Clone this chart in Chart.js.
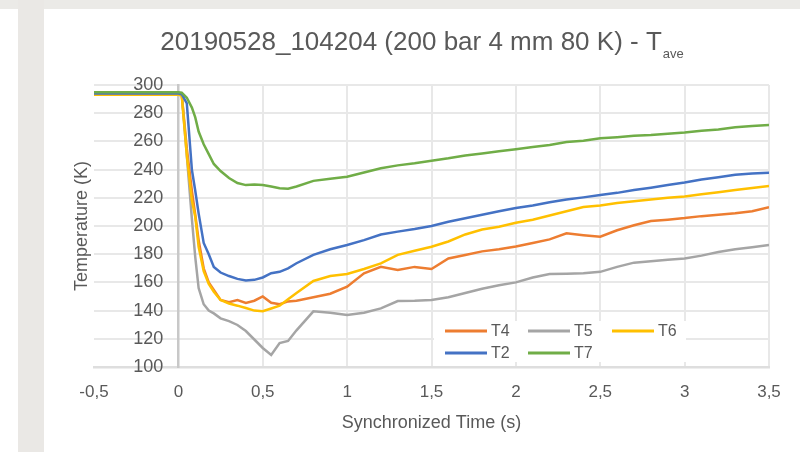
<!DOCTYPE html>
<html><head><meta charset="utf-8">
<script src="https://cdn.jsdelivr.net/npm/chart.js@4.4.1/dist/chart.umd.min.js"></script>
<style>
html,body{margin:0;padding:0;background:#fff;width:800px;height:452px;overflow:hidden;position:relative}
#top{position:absolute;left:0;top:0;width:800px;height:9px;background:#ebeae7}
#side{position:absolute;left:18px;top:0;width:26px;height:452px;background:#eae8e5}
#wrap{position:absolute;left:44px;top:9px;width:756px;height:443px;background:#fff}
</style></head><body>
<div id="top"></div><div id="side"></div>
<div id="wrap"><canvas id="c" width="756" height="443"></canvas></div>
<script>
const chartTitle = '20190528_104204 (200 bar 4 mm 80 K) - T';
const chartTitleSub = 'ave';
const xAxisTitle = 'Synchronized Time (s)';
const yAxisTitle = 'Temperature (K)';
const seriesNames = ['T4', 'T5', 'T6', 'T2', 'T7'];
const seriesColors = ['#ED7D31', '#A5A5A5', '#FFC000', '#4472C4', '#70AD47'];
const timeS = [-0.5, 0, 0.02, 0.05, 0.08, 0.1, 0.12, 0.15, 0.18, 0.21, 0.25, 0.3, 0.35, 0.4, 0.45, 0.5, 0.55, 0.6, 0.65, 0.7, 0.8, 0.9, 1.0, 1.1, 1.2, 1.3, 1.4, 1.5, 1.6, 1.7, 1.8, 1.9, 2.0, 2.1, 2.2, 2.3, 2.4, 2.5, 2.6, 2.7, 2.8, 2.9, 3.0, 3.1, 3.2, 3.3, 3.4, 3.5];
const tempT4 = [293.5, 293.5, 293, 255, 225, 208, 190, 170, 160, 154.6, 147.5, 146, 147.5, 145.5, 147, 150, 145.5, 144.5, 146.5, 147, 149.5, 152, 157, 166.5, 171, 168.8, 171, 169.5, 177, 179.5, 182, 183.5, 185.5, 188, 190.5, 194.8, 193.5, 192.4, 197, 200.5, 203.5, 204.5, 205.6, 207, 208, 209, 210.5, 213.3];
const tempT5 = [294, 294, 293.5, 250, 205, 178, 156, 144.5, 140, 138, 134.5, 132.5, 129.8, 125.5, 119.5, 113.5, 108.5, 117, 118.5, 126, 139.5, 138.5, 136.9, 138.5, 141.6, 146.8, 147, 147.5, 149.5, 152.5, 155.5, 158, 160, 163.5, 166, 166.2, 166.5, 167.5, 171, 174, 175, 176, 177, 179, 181.5, 183.5, 185, 186.5];
const tempT6 = [293, 293, 292.5, 250, 218, 206.6, 185.3, 168, 159, 153.4, 147.5, 145, 143.5, 141.8, 140, 139.5, 141.5, 143.5, 148, 152.5, 161, 164.5, 166, 169.5, 173.5, 179.5, 182.5, 185.3, 189, 194, 197.5, 199.5, 202.3, 204.5, 207.5, 210.5, 213.5, 214.5, 216.3, 217.5, 218.8, 220, 221, 222.5, 224, 225.5, 227, 228.4];
const tempT2 = [294, 294, 293.5, 287, 240, 225, 209, 188, 180, 171, 167, 164.5, 162.5, 161.3, 161.8, 163.5, 166.5, 167.5, 170, 173.6, 179.5, 183.5, 186.5, 190, 194, 196, 197.8, 200, 203, 205.5, 208, 210.5, 212.8, 214.5, 216.8, 218.8, 220.3, 222, 223.5, 225.5, 227.2, 229, 230.8, 233, 234.6, 236.3, 237.3, 237.8];
const tempT7 = [294.8, 294.8, 294.5, 291, 284, 277, 267, 258, 251, 244, 239, 234, 230.5, 229, 229.5, 229, 228, 226.8, 226.5, 228, 232, 233.5, 235, 238, 241, 243, 244.5, 246.3, 248, 250, 251.5, 253, 254.5, 256, 257.5, 259.5, 260.5, 262.2, 263, 264, 264.5, 265.5, 266.3, 267.5, 268.5, 270, 271, 271.6];
const seriesValues = [tempT4, tempT5, tempT6, tempT2, tempT7];

const FONT = '"Liberation Sans", Arial, sans-serif';
const TXT = '#595959';

const datasets = seriesNames.map((name, i) => ({
  label: name,
  data: timeS.map((t, k) => ({x: t, y: seriesValues[i][k]})),
  borderColor: seriesColors[i],
  backgroundColor: seriesColors[i],
  borderWidth: 2.5,
  pointRadius: 0,
  tension: 0,
  fill: false,
  order: seriesNames.length - i
}));

const decorPlugin = {
  id: 'decor',
  afterDraw(chart) {
    const ctx = chart.ctx;
    ctx.save();
    const mainFont = '26px ' + FONT;
    const subFont = '13px ' + FONT;
    ctx.font = mainFont;
    const wMain = ctx.measureText(chartTitle).width;
    ctx.font = subFont;
    const wSub = ctx.measureText(chartTitleSub).width;
    const total = wMain + 1 + wSub;
    const cx = chart.width / 2;
    const x0 = cx - total / 2;
    const baseY = 41;
    ctx.fillStyle = TXT;
    ctx.textBaseline = 'alphabetic';
    ctx.textAlign = 'left';
    ctx.font = mainFont;
    ctx.fillText(chartTitle, x0, baseY);
    ctx.font = subFont;
    ctx.fillText(chartTitleSub, x0 + wMain + 1, baseY + 8);
    // legend
    const boxX = 390, boxY = 312, boxW = 252, boxH = 41;
    ctx.fillStyle = '#ffffff';
    ctx.fillRect(boxX, boxY, boxW, boxH);
    const colX = [401, 484, 568];
    const rowY = [322, 344];
    ctx.font = '16px ' + FONT;
    ctx.textBaseline = 'middle';
    chart.data.datasets.forEach((ds, i) => {
      const col = i % 3, row = Math.floor(i / 3);
      const lx = colX[col], ly = rowY[row];
      ctx.strokeStyle = ds.borderColor;
      ctx.lineWidth = 3;
      ctx.beginPath();
      ctx.moveTo(lx, ly);
      ctx.lineTo(lx + 42, ly);
      ctx.stroke();
      ctx.fillStyle = TXT;
      ctx.fillText(ds.label, lx + 46, ly + 1);
    });
    ctx.restore();
  }
};

new Chart(document.getElementById('c'), {
  type: 'line',
  data: {datasets},
  plugins: [decorPlugin],
  options: {
    responsive: false,
    animation: false,
    devicePixelRatio: 1,
    layout: {padding: {left: 27, right: 31, top: 76, bottom: 18}},
    plugins: {legend: {display: false}, title: {display: false}, tooltip: {enabled: false}},
    scales: {
      x: {
        type: 'linear',
        position: 'bottom',
        min: -0.5, max: 3.5,
        ticks: {
          stepSize: 0.5,
          padding: 15,
          color: TXT,
          font: {family: FONT, size: 17},
          callback: v => String(v).replace('.', ',')
        },
        grid: {
          drawTicks: false,
          lineWidth: 2,
          color: c => (c.tick && c.tick.value === -0.5) ? 'rgba(0,0,0,0)' : '#e8e8e8'
        },
        border: {display: true, color: '#dedede', width: 2.5},
        title: {display: true, text: xAxisTitle, color: TXT, font: {family: FONT, size: 18}, padding: {top: -5, bottom: 0}}
      },
      y: {
        type: 'linear',
        position: {x: 0},
        min: 100, max: 300,
        ticks: {
          stepSize: 20,
          color: TXT,
          font: {family: FONT, size: 18},
          callback: v => v + '   '
        },
        grid: {drawTicks: false, lineWidth: 2, color: '#e8e8e8'},
        border: {display: true, color: '#c8c8c8', width: 2.5}
      },
      yTitle: {
        type: 'linear',
        position: 'left',
        min: 100, max: 300,
        ticks: {display: false},
        grid: {display: false, drawTicks: false},
        border: {display: false},
        title: {display: true, text: yAxisTitle, color: TXT, font: {family: FONT, size: 18}, padding: {top: 0, bottom: 1.4}}
      }
    }
  }
});
</script>
</body></html>
